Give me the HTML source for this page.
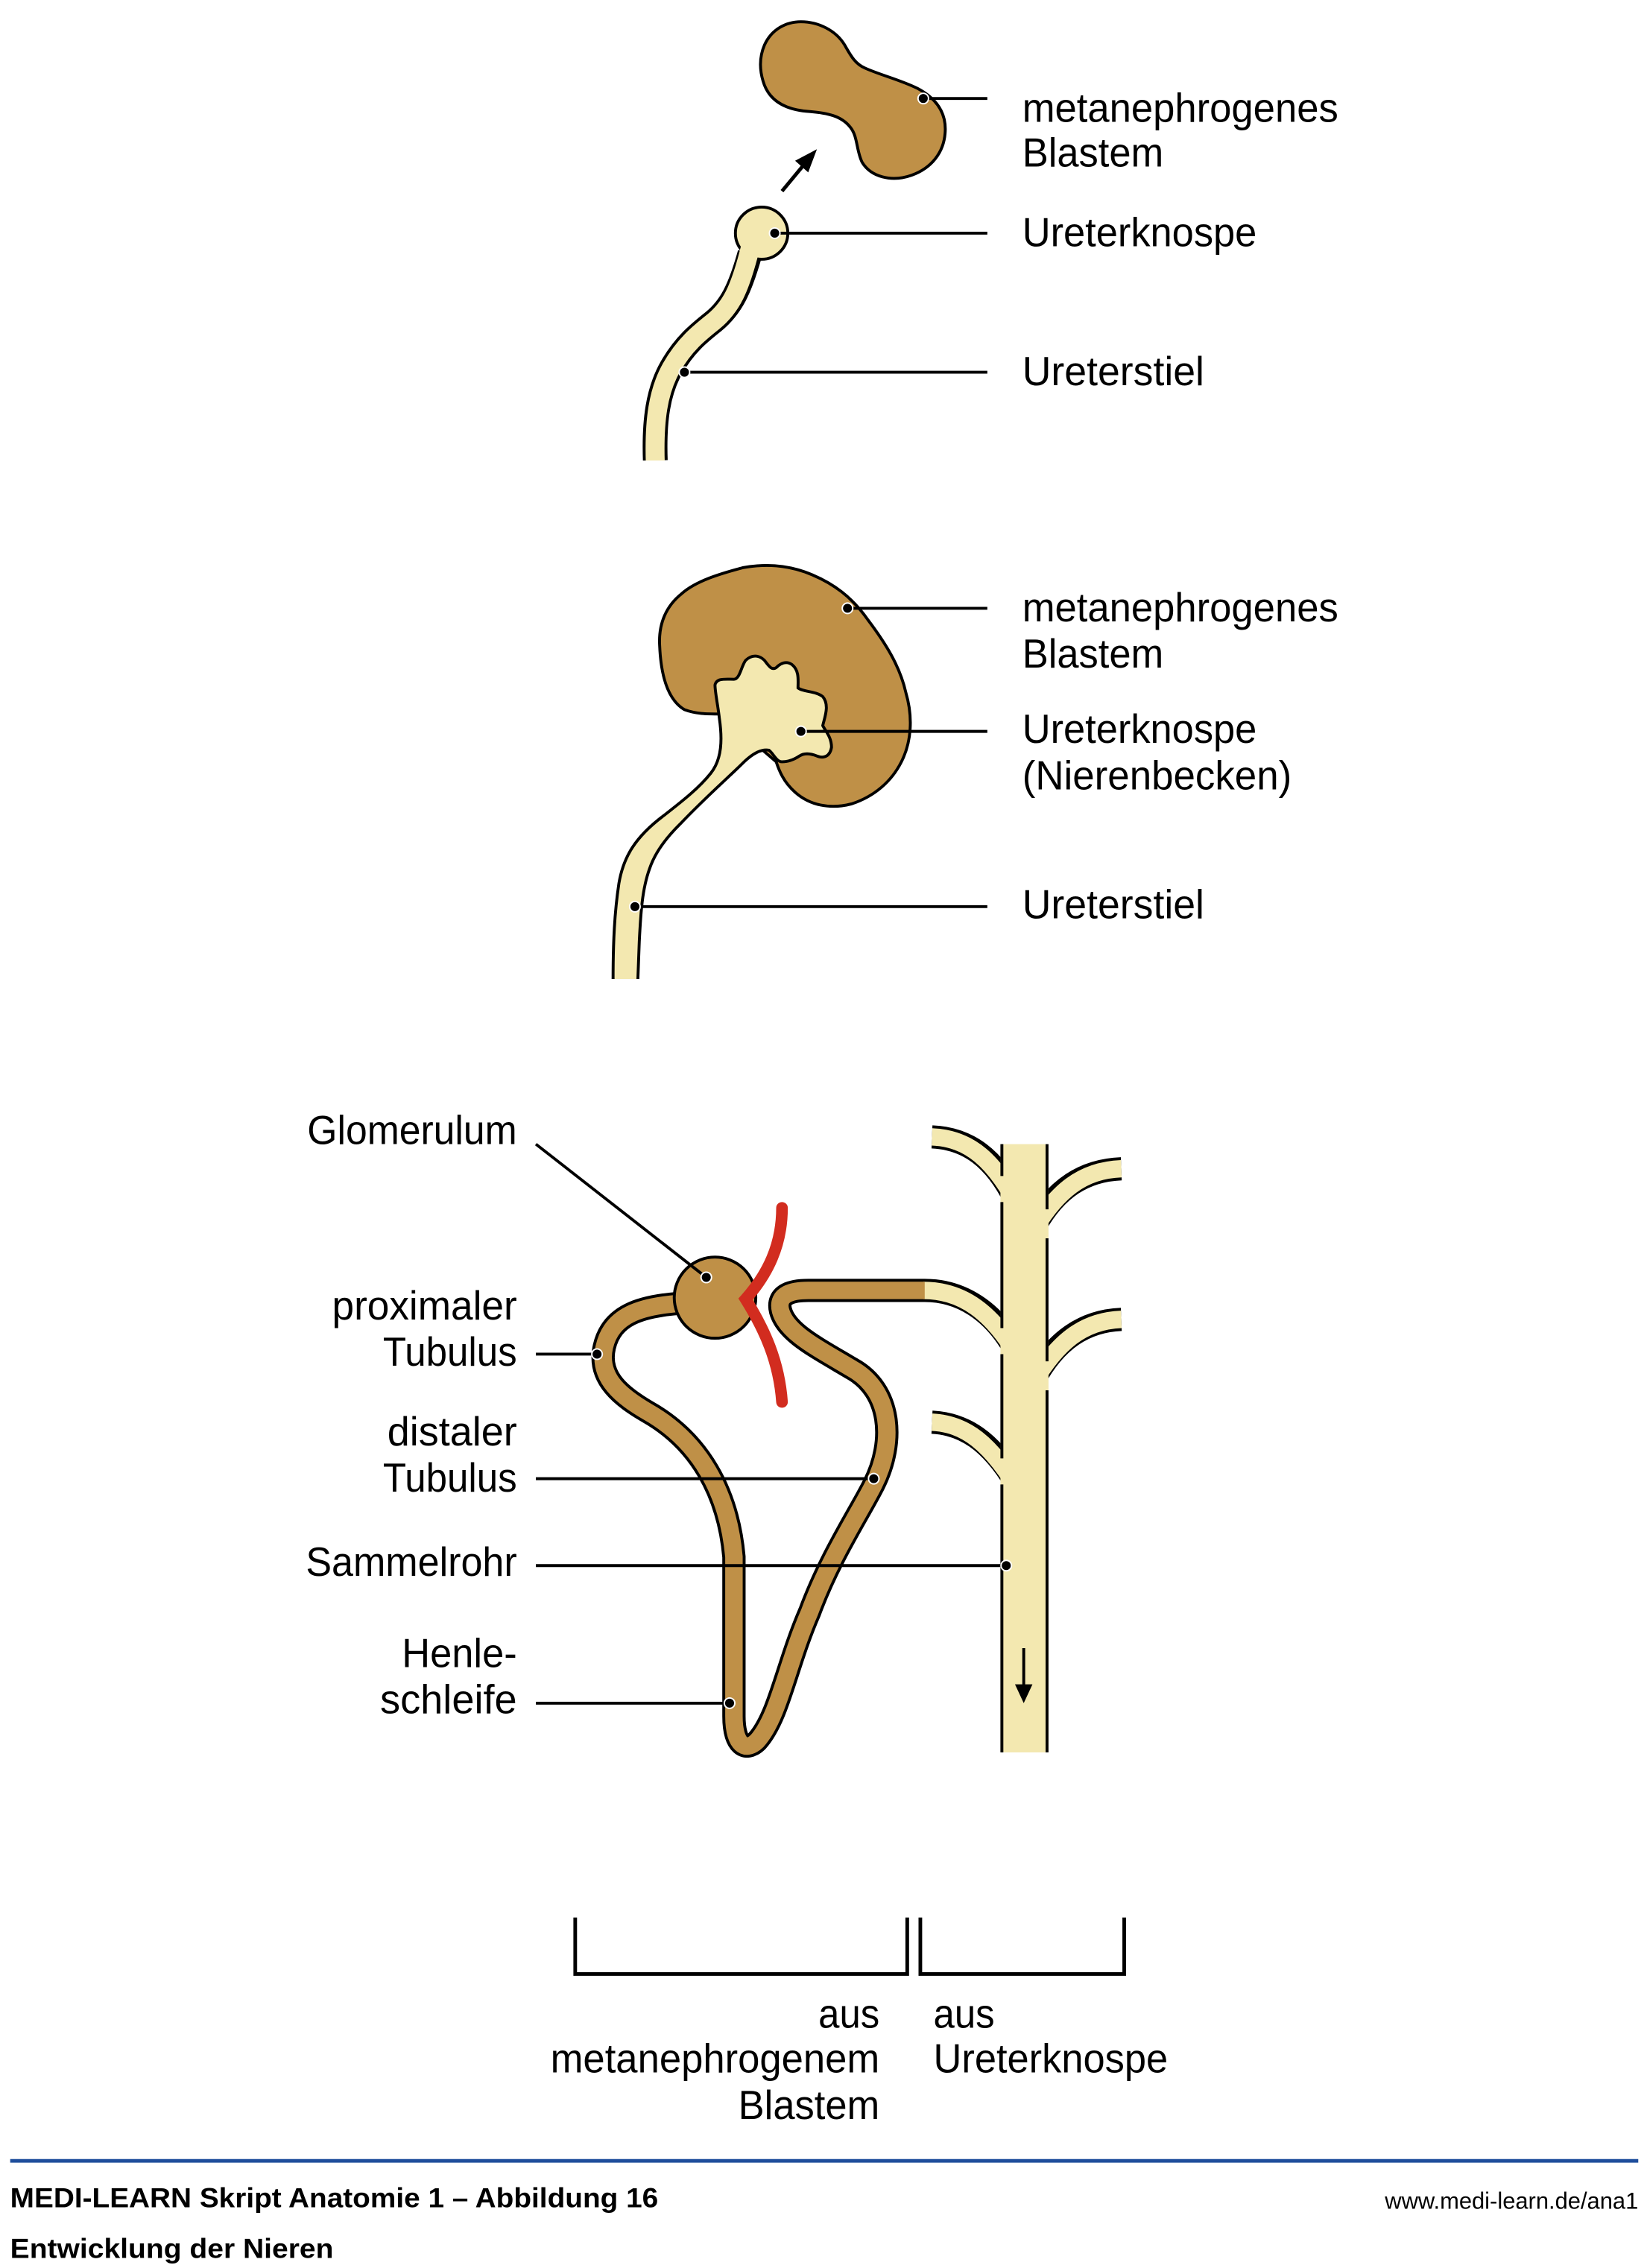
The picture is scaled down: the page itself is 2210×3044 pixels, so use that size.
<!DOCTYPE html>
<html><head><meta charset="utf-8"><style>
html,body{margin:0;padding:0;background:#fff;}
svg{display:block;}
text{font-family:"Liberation Sans",sans-serif;fill:#000;}
</style></head><body>
<svg width="2210" height="3044" viewBox="0 0 1131 1566" preserveAspectRatio="none" xmlns="http://www.w3.org/2000/svg">
<defs>
<g id="dot"><circle r="3.6" fill="#000" stroke="#fff" stroke-width="1"/></g>
</defs>
<!-- ===== Section 1 ===== -->
<path d="M525,31 C530,20 540,15 550,15 C562,15 574,21 580,31 C584,38 587,44 594,47 C605,52 618,55 630,61 C645,69 650,80 649,92 C648,105 640,116 626,121 C612,126 598,122 592,112 C588,104 589,94 584,88 C578,80 568,78 556,77 C540,76 528,70 524,56 C521,46 522,38 525,31 Z" fill="#bf9047" stroke="#000" stroke-width="2"/>
<line x1="537" y1="132" x2="551" y2="115" stroke="#000" stroke-width="2.5"/>
<polygon points="561,103 546,111 555,119" fill="#000"/>
<path d="M450,318 C449,290 452,270 461,254 C470,238 480,230 490,222 C502,212 508,200 515,175" fill="none" stroke="#000" stroke-width="17"/>
<circle cx="523" cy="161" r="18" fill="#f3e8b0" stroke="#000" stroke-width="2"/>
<path d="M450,320 C449,290 452,270 461,254 C470,238 480,230 490,222 C502,212 508,200 515,172" fill="none" stroke="#f3e8b0" stroke-width="13"/>
<rect x="440" y="318" width="30" height="10" fill="#fff"/>
<line x1="634" y1="68" x2="678" y2="68" stroke="#000" stroke-width="2"/><use href="#dot" x="634" y="68"/>
<line x1="532" y1="161" x2="678" y2="161" stroke="#000" stroke-width="2"/><use href="#dot" x="532" y="161"/>
<line x1="470" y1="257" x2="678" y2="257" stroke="#000" stroke-width="2"/><use href="#dot" x="470" y="257"/>
<g font-size="28">
<text x="702" y="84" textLength="217" lengthAdjust="spacingAndGlyphs">metanephrogenes</text>
<text x="702" y="115" textLength="97" lengthAdjust="spacingAndGlyphs">Blastem</text>
<text x="702" y="170" textLength="161" lengthAdjust="spacingAndGlyphs">Ureterknospe</text>
<text x="702" y="266" textLength="125" lengthAdjust="spacingAndGlyphs">Ureterstiel</text>
</g>
<!-- ===== Section 2 ===== -->
<path d="M453,446 C452,430 458,418 468,410 C478,401 495,396 510,392 C526,389 542,390 558,397 C572,403 585,412 596,428 C608,444 618,460 622,478 C627,495 626,512 619,526 C612,540 600,550 585,555 C570,559 556,556 546,547 C538,540 535,532 533,526 L495,493 C485,493 478,493 470,490 C460,484 454,470 453,446 Z" fill="#bf9047" stroke="#000" stroke-width="2"/>
<path d="M421,677 C421,650 422,630 425,610 C428,592 436,578 456,563 C470,552 480,544 488,534 C496,524 496,510 494,496 C493,487 491,478 491,473 C492,468 498,469 504,469 C508,469 509,460 512,456 C516,452 521,452 525,456 C528,460 530,463 533,461 C536,458 540,456 544,459 C549,463 548,470 548,475 C552,478 560,477 565,481 C570,487 566,496 565,501 C567,505 571,509 571,516 C570,522 566,524 561,522 C556,520 552,520 549,522 C546,524 542,526 537,526 C533,526 531,520 528,518 C522,517 516,521 510,527 C500,537 485,550 467,569 C458,578 450,588 446,600 C441,614 440,630 439,650 L438,677 Z" fill="#f3e8b0" stroke="#000" stroke-width="2"/>
<rect x="415" y="676" width="30" height="6" fill="#fff"/>
<line x1="582" y1="420" x2="678" y2="420" stroke="#000" stroke-width="2"/><use href="#dot" x="582" y="420"/>
<line x1="550" y1="505" x2="678" y2="505" stroke="#000" stroke-width="2"/><use href="#dot" x="550" y="505"/>
<line x1="436" y1="626" x2="678" y2="626" stroke="#000" stroke-width="2"/><use href="#dot" x="436" y="626"/>
<g font-size="28">
<text x="702" y="429" textLength="217" lengthAdjust="spacingAndGlyphs">metanephrogenes</text>
<text x="702" y="461" textLength="97" lengthAdjust="spacingAndGlyphs">Blastem</text>
<text x="702" y="513" textLength="161" lengthAdjust="spacingAndGlyphs">Ureterknospe</text>
<text x="702" y="545" textLength="185" lengthAdjust="spacingAndGlyphs">(Nierenbecken)</text>
<text x="702" y="634" textLength="125" lengthAdjust="spacingAndGlyphs">Ureterstiel</text>
</g>
<!-- ===== Section 3 ===== -->
<g fill="none" stroke-linecap="butt">
<path d="M640,785 C665,786 683,800 697,828" stroke="#000" stroke-width="16"/>
<path d="M770,807 C745,808 725,820 710,848" stroke="#000" stroke-width="16"/>
<path d="M770,911 C745,912 725,925 710,953" stroke="#000" stroke-width="16"/>
<path d="M640,982 C662,983 680,995 697,1023" stroke="#000" stroke-width="16"/>
</g>
<path d="M466,900 C440,902 420,908 415,930 C410,952 428,965 445,975 C480,995 500,1030 504,1075 L504,1185 C504,1205 512,1210 520,1202 C535,1185 540,1150 556,1113 C570,1075 590,1045 600,1025 C615,995 612,960 585,945 C560,930 540,920 536,905 C533,893 545,891 555,891 L635,891 C660,891 682,905 697,932" fill="none" stroke="#000" stroke-width="16"/>
<rect x="687" y="790" width="33" height="420" fill="#f3e8b0"/>
<g fill="none" stroke="#f3e8b0" stroke-width="12">
<path d="M640,785 C665,786 683,800 702,838"/>
<path d="M770,807 C745,808 725,820 705,858"/>
<path d="M770,911 C745,912 725,925 705,963"/>
<path d="M640,982 C662,983 680,995 702,1033"/>
<path d="M634,891 C660,891 682,905 702,942"/>
</g>
<path d="M466,900 C440,902 420,908 415,930 C410,952 428,965 445,975 C480,995 500,1030 504,1075 L504,1185 C504,1205 512,1210 520,1202 C535,1185 540,1150 556,1113 C570,1075 590,1045 600,1025 C615,995 612,960 585,945 C560,930 540,920 536,905 C533,893 545,891 555,891 L635,891" fill="none" stroke="#bf9047" stroke-width="12"/>
<g stroke="#000" stroke-width="2">
<line x1="688" y1="790" x2="688" y2="812"/>
<line x1="688" y1="830" x2="688" y2="917"/>
<line x1="688" y1="935" x2="688" y2="1007"/>
<line x1="688" y1="1025" x2="688" y2="1210"/>
<line x1="719" y1="790" x2="719" y2="835"/>
<line x1="719" y1="855" x2="719" y2="940"/>
<line x1="719" y1="960" x2="719" y2="1210"/>
</g>
<circle cx="491" cy="896" r="28" fill="#bf9047" stroke="#000" stroke-width="2"/>
<path d="M537,834 C537,860 527,880 512,897 C525,918 535,940 537,968" fill="none" stroke="#d22c1f" stroke-width="8" stroke-linecap="round"/>
<line x1="703" y1="1138" x2="703" y2="1166" stroke="#000" stroke-width="2"/>
<polygon points="697,1163 709,1163 703,1176" fill="#000"/>
<g stroke="#000" stroke-width="2">
<line x1="368" y1="790" x2="485" y2="882"/>
<line x1="368" y1="935" x2="410" y2="935"/>
<line x1="368" y1="1021" x2="600" y2="1021"/>
<line x1="368" y1="1081" x2="691" y2="1081"/>
<line x1="368" y1="1176" x2="501" y2="1176"/>
</g>
<use href="#dot" x="485" y="882"/><use href="#dot" x="410" y="935"/><use href="#dot" x="600" y="1021"/><use href="#dot" x="691" y="1081"/><use href="#dot" x="501" y="1176"/>
<g font-size="28" text-anchor="end">
<text x="355" y="790" textLength="144" lengthAdjust="spacingAndGlyphs">Glomerulum</text>
<text x="355" y="911" textLength="127" lengthAdjust="spacingAndGlyphs">proximaler</text>
<text x="355" y="943" textLength="92" lengthAdjust="spacingAndGlyphs">Tubulus</text>
<text x="355" y="998" textLength="89" lengthAdjust="spacingAndGlyphs">distaler</text>
<text x="355" y="1030" textLength="92" lengthAdjust="spacingAndGlyphs">Tubulus</text>
<text x="355" y="1088" textLength="145" lengthAdjust="spacingAndGlyphs">Sammelrohr</text>
<text x="355" y="1151" textLength="79" lengthAdjust="spacingAndGlyphs">Henle-</text>
<text x="355" y="1183" textLength="94" lengthAdjust="spacingAndGlyphs">schleife</text>
</g>
<g fill="none" stroke="#000" stroke-width="2.5">
<polyline points="395,1324 395,1363 623,1363 623,1324"/>
<polyline points="632,1324 632,1363 772,1363 772,1324"/>
</g>
<g font-size="28">
<text x="604" y="1400" text-anchor="end" textLength="42" lengthAdjust="spacingAndGlyphs">aus</text>
<text x="604" y="1431" text-anchor="end" textLength="226" lengthAdjust="spacingAndGlyphs">metanephrogenem</text>
<text x="604" y="1463" text-anchor="end" textLength="97" lengthAdjust="spacingAndGlyphs">Blastem</text>
<text x="641" y="1400" textLength="42" lengthAdjust="spacingAndGlyphs">aus</text>
<text x="641" y="1431" textLength="161" lengthAdjust="spacingAndGlyphs">Ureterknospe</text>
</g>
<line x1="7" y1="1492" x2="1125" y2="1492" stroke="#1f4e9c" stroke-width="2.5"/>
<text x="7" y="1524" font-size="19" font-weight="bold" textLength="445" lengthAdjust="spacingAndGlyphs">MEDI-LEARN Skript Anatomie 1 – Abbildung 16</text>
<text x="7" y="1559" font-size="19" font-weight="bold" textLength="222" lengthAdjust="spacingAndGlyphs">Entwicklung der Nieren</text>
<text x="1125" y="1525" font-size="16" text-anchor="end" textLength="174" lengthAdjust="spacingAndGlyphs">www.medi-learn.de/ana1</text>
</svg>
</body></html>
